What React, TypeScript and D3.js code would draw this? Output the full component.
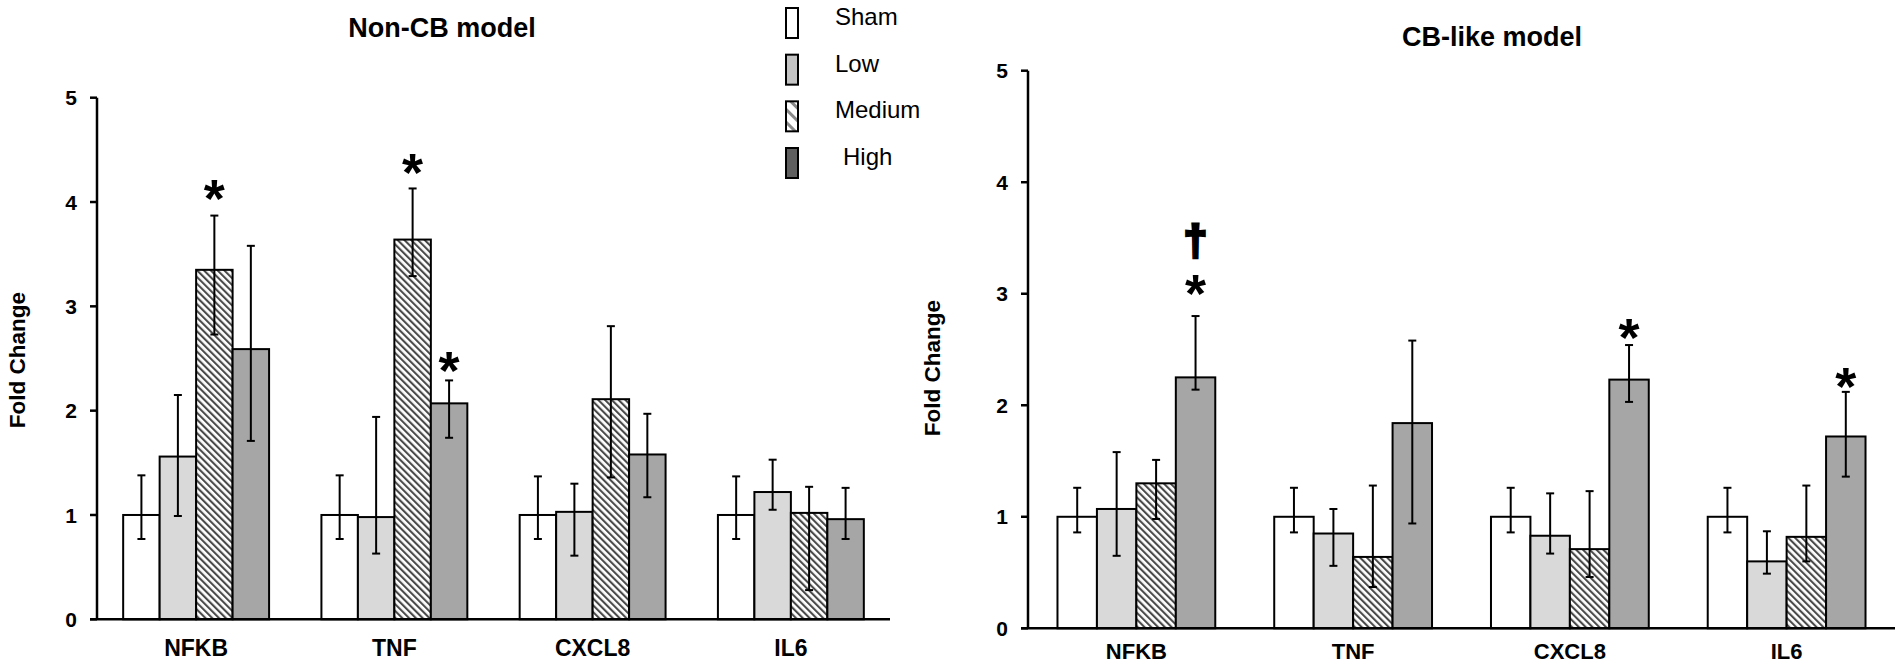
import * as d3 from 'd3'

// ── data ─────────────────────────────────────────────────────────────────────
const GENES  = ['NFKB', 'TNF', 'CXCL8', 'IL6']
const GROUPS = ['Sham', 'Low', 'Medium', 'High']
const Y_TICKS = [0, 1, 2, 3, 4, 5]

// Non-CB model: mean fold change, one value per gene
const NONCB_SHAM   = [1.00, 1.00, 1.00, 1.00]
const NONCB_LOW    = [1.56, 0.98, 1.03, 1.22]
const NONCB_MEDIUM = [3.35, 3.64, 2.11, 1.02]
const NONCB_HIGH   = [2.59, 2.07, 1.58, 0.96]
// error bar ends, rows follow GROUPS
const NONCB_ERR_LO = [
  [0.77, 0.77, 0.77, 0.77],
  [0.99, 0.63, 0.61, 1.05],
  [2.73, 3.29, 1.36, 0.28],
  [1.71, 1.74, 1.17, 0.77],
]
const NONCB_ERR_HI = [
  [1.38, 1.38, 1.37, 1.37],
  [2.15, 1.94, 1.30, 1.53],
  [3.87, 4.13, 2.81, 1.27],
  [3.58, 2.29, 1.97, 1.26],
]
const NONCB_MARKS = [
  { gene: 'NFKB', group: 'Medium', sym: '*', at: 4.13 },
  { gene: 'TNF',  group: 'Medium', sym: '*', at: 4.38 },
  { gene: 'TNF',  group: 'High',   sym: '*', at: 2.49 },
]

// CB-like model
const CB_SHAM   = [1.00, 1.00, 1.00, 1.00]
const CB_LOW    = [1.07, 0.85, 0.83, 0.60]
const CB_MEDIUM = [1.30, 0.64, 0.71, 0.82]
const CB_HIGH   = [2.25, 1.84, 2.23, 1.72]
const CB_ERR_LO = [
  [0.86, 0.86, 0.86, 0.86],
  [0.65, 0.56, 0.67, 0.49],
  [0.98, 0.37, 0.46, 0.60],
  [2.14, 0.94, 2.03, 1.36],
]
const CB_ERR_HI = [
  [1.26, 1.26, 1.26, 1.26],
  [1.58, 1.07, 1.21, 0.87],
  [1.51, 1.28, 1.23, 1.28],
  [2.80, 2.58, 2.54, 2.12],
]
const CB_MARKS = [
  { gene: 'NFKB',  group: 'High', sym: '\u2020', at: 3.47 },
  { gene: 'NFKB',  group: 'High', sym: '*',      at: 3.10 },
  { gene: 'CXCL8', group: 'High', sym: '*',      at: 2.70 },
  { gene: 'IL6',   group: 'High', sym: '*',      at: 2.26 },
]

// ── style ────────────────────────────────────────────────────────────────────
const W = 1901
const H = 665
const FONT = 'Arial, "Liberation Sans", Helvetica, sans-serif'
const FILLS        = ['#ffffff', '#d9d9d9', 'url(#hatch)', '#a6a6a6']
const LEGEND_FILLS = ['#ffffff', '#c4c4c4', 'url(#hatch-lg)', '#5f5f5f']

type Mark = { gene: string; group: string; sym: string; at: number }
type Layout = {
  x0: number; x1: number; y0: number; y1: number
  titleX: number; titleY: number
  labelX: number; labelY: number
  catY: number; catSize: number; pad: number
}

const LEFT: Layout  = { x0: 97,   x1: 890,  y0: 619.3, y1: 97.7, titleX: 442,  titleY: 37,   labelX: 17,  labelY: 360, catY: 656, catSize: 23, pad: 0.264 }
const RIGHT: Layout = { x0: 1028, x1: 1895, y0: 628.3, y1: 70.7, titleX: 1492, titleY: 45.5, labelX: 932, labelY: 368, catY: 659, catSize: 22, pad: 0.272 }

function Panel({ title, means, lo, hi, marks, L }: {
  title: string; means: number[][]; lo: number[][]; hi: number[][]; marks: Mark[]; L: Layout
}) {
  const x = d3.scaleBand().domain(GENES).range([L.x0, L.x1]).paddingInner(L.pad).paddingOuter(L.pad / 2)
  const xg = d3.scaleBand().domain(GROUPS).range([0, x.bandwidth()])
  const y = d3.scaleLinear().domain([0, 5]).range([L.y0, L.y1])
  const bw = xg.bandwidth()
  const cx = (gene: string, group: string) => (x(gene) ?? 0) + (xg(group) ?? 0) + bw / 2

  return (
    <g fontFamily={FONT}>
      <text x={L.titleX} y={L.titleY} textAnchor="middle" fontWeight="bold" fontSize={27}>{title}</text>
      <text transform={`translate(${L.labelX},${L.labelY}) rotate(-90)`} textAnchor="middle"
        dominantBaseline="central" fontWeight="bold" fontSize={22.5}>Fold Change</text>

      {/* bars */}
      {GROUPS.map((g, gi) => GENES.map((gene, k) => (
        <rect key={`${g}-${gene}`} x={(x(gene) ?? 0) + (xg(g) ?? 0)} y={y(means[gi][k])}
          width={bw} height={y(0) - y(means[gi][k])}
          fill={FILLS[gi]} stroke="#000" strokeWidth={2} />
      )))}

      {/* error bars */}
      {GROUPS.map((g, gi) => GENES.map((gene, k) => {
        const c = cx(gene, g)
        const a = y(lo[gi][k]), b = y(hi[gi][k])
        return (
          <g key={`e-${g}-${gene}`} stroke="#000" strokeWidth={2}>
            <line x1={c} x2={c} y1={a} y2={b} />
            <line x1={c - 4} x2={c + 4} y1={a} y2={a} />
            <line x1={c - 4} x2={c + 4} y1={b} y2={b} />
          </g>
        )
      }))}

      {/* significance marks */}
      {marks.map((m, i) => m.sym === '*'
        ? <text key={i} x={cx(m.gene, m.group)} y={y(m.at) + 29} textAnchor="middle" fontWeight="bold" fontSize={54}>*</text>
        : <text key={i} x={cx(m.gene, m.group)} y={y(m.at) + 14} textAnchor="middle" fontWeight="bold" fontSize={42}
            stroke="#000" strokeWidth={3} strokeLinejoin="miter">{m.sym}</text>
      )}

      {/* axes */}
      <line x1={L.x0} x2={L.x0} y1={y(5)} y2={y(0)} stroke="#000" strokeWidth={2.5} />
      <line x1={L.x0 - 7} x2={L.x1} y1={y(0)} y2={y(0)} stroke="#000" strokeWidth={2.5} />
      {Y_TICKS.map(t => (
        <g key={t}>
          <line x1={L.x0 - 7} x2={L.x0} y1={y(t)} y2={y(t)} stroke="#000" strokeWidth={2.5} />
          <text x={L.x0 - 20} y={y(t)} dy="0.36em" textAnchor="end" fontWeight="bold" fontSize={21}>{t}</text>
        </g>
      ))}
      {GENES.map(gene => (
        <text key={gene} x={(x(gene) ?? 0) + x.bandwidth() / 2} y={L.catY} textAnchor="middle"
          fontWeight="bold" fontSize={L.catSize}>{gene}</text>
      ))}
    </g>
  )
}

function Legend() {
  const ly = d3.scaleLinear().domain([0, GROUPS.length - 1]).range([25, 165])
  return (
    <g fontFamily={FONT}>
      {GROUPS.map((g, i) => (
        <g key={g}>
          <rect x={786} y={ly(i) - 17} width={12} height={30} fill={LEGEND_FILLS[i]} stroke="#000" strokeWidth={2} />
          <text x={g === 'High' ? 843 : 835} y={ly(i)} fontSize={24}>{g}</text>
        </g>
      ))}
    </g>
  )
}

export default function App() {
  return (
    <div style={{ position: 'absolute', left: 0, top: 0 }}>
      <svg width={W} height={H} viewBox={`0 0 ${W} ${H}`} style={{ display: 'block', background: '#fff' }}>
        <defs>
          <pattern id="hatch" patternUnits="userSpaceOnUse" width={4.8} height={4.8} patternTransform="rotate(-45)">
            <rect width={4.8} height={4.8} fill="#fff" />
            <rect width={2.1} height={4.8} fill="#4a4a4a" />
          </pattern>
          <pattern id="hatch-lg" patternUnits="userSpaceOnUse" width={9} height={9} patternTransform="rotate(-45)">
            <rect width={9} height={9} fill="#fff" />
            <rect width={3} height={9} fill="#8a8a8a" />
          </pattern>
        </defs>
        <Panel title="Non-CB model" L={LEFT}
          means={[NONCB_SHAM, NONCB_LOW, NONCB_MEDIUM, NONCB_HIGH]}
          lo={NONCB_ERR_LO} hi={NONCB_ERR_HI} marks={NONCB_MARKS} />
        <Panel title="CB-like model" L={RIGHT}
          means={[CB_SHAM, CB_LOW, CB_MEDIUM, CB_HIGH]}
          lo={CB_ERR_LO} hi={CB_ERR_HI} marks={CB_MARKS} />
        <Legend />
      </svg>
    </div>
  )
}
